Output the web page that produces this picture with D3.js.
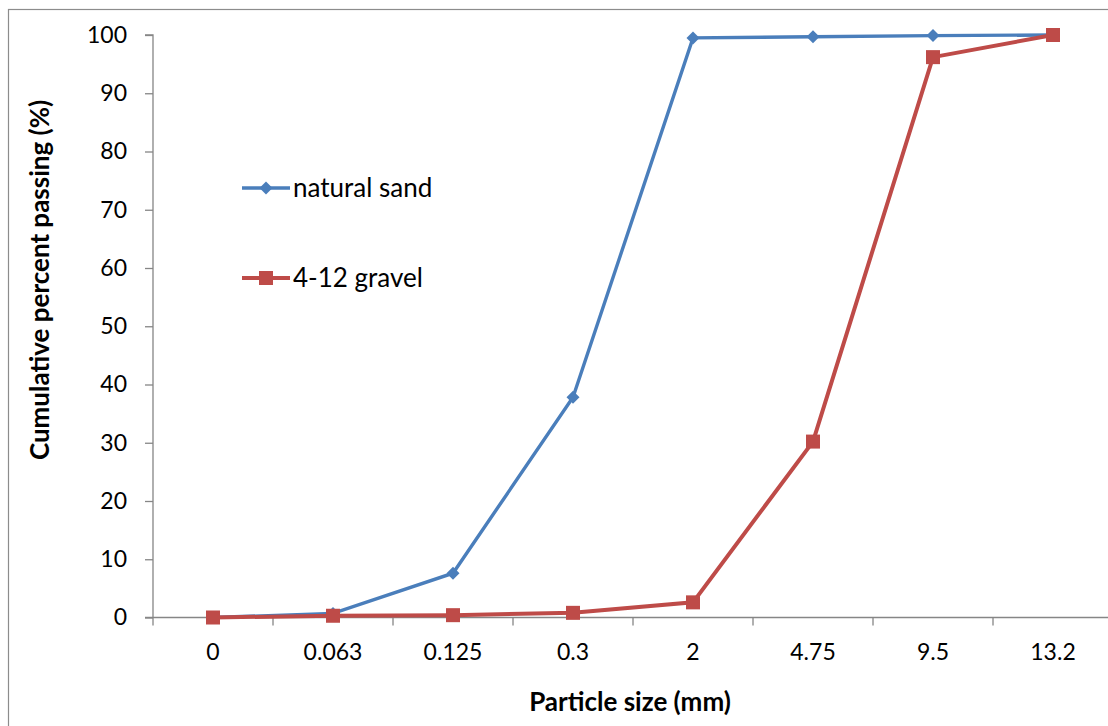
<!DOCTYPE html>
<html><head><meta charset="utf-8">
<script src="https://cdn.jsdelivr.net/npm/d3@7"></script>
<style>body{margin:0;background:#fff}svg{display:block}text{font-family:Lato,"Open Sans",sans-serif}</style>
</head><body>
<svg id="c" width="1108" height="726"></svg>
<script>
const categories = ["0","0.063","0.125","0.3","2","4.75","9.5","13.2"];
const naturalSand = [0, 0.7, 7.6, 37.8, 99.5, 99.7, 99.9, 100];
const gravel = [0, 0.3, 0.4, 0.8, 2.6, 30.2, 96.2, 100];
const yTicks = [0,10,20,30,40,50,60,70,80,90,100];
const seriesNames = ["natural sand","4-12 gravel"];

const svg = d3.select("#c");
const m = {left:153, top:35, right:1113, bottom:617.5};
svg.append("rect").attr("x",8.5).attr("y",9.5).attr("width",1130).attr("height",760)
  .attr("fill","none").attr("stroke","#8c8c8c").attr("stroke-width",1.2);

const x = d3.scaleBand().domain(categories).range([m.left,m.right]);
const y = d3.scaleLinear().domain([0,100]).range([m.bottom,m.top]);

const yAxis = svg.append("g").attr("transform",`translate(${m.left},0)`)
  .call(d3.axisLeft(y).tickValues(yTicks).tickSize(8).tickPadding(18));
const xAxis = svg.append("g").attr("transform",`translate(0,${m.bottom})`)
  .call(d3.axisBottom(x).tickSize(0).tickPadding(26));
const bounds = categories.map(c=>x(c)).concat([m.right]);
xAxis.selectAll(".bt").data(bounds).enter().append("line").attr("class","bt")
  .attr("x1",d=>d).attr("x2",d=>d).attr("y1",0).attr("y2",8);
[yAxis,xAxis].forEach(a=>{
  a.selectAll("path.domain").attr("stroke","#868686").attr("stroke-width",1.3);
  a.selectAll("line").attr("stroke","#868686").attr("stroke-width",1.3);
  a.selectAll("text").attr("font-size",23).attr("fill","#000");
});
yAxis.select("path.domain").attr("d",`M-8,${m.top}H0V${m.bottom}`);
xAxis.select("path.domain").attr("transform",`translate(${m.left},0)`).attr("d",`M-8,0H${m.right-m.left}`);

const cx = c => x(c)+x.bandwidth()/2;
const line = d3.line().x((d,i)=>cx(categories[i])).y(d=>y(d));
const blue = "#4A7EBB", red = "#BE4B48";

svg.append("path").datum(naturalSand).attr("d",line).attr("fill","none").attr("stroke",blue).attr("stroke-width",3.4);
svg.append("path").datum(gravel).attr("d",line).attr("fill","none").attr("stroke",red).attr("stroke-width",4);

const diamond = d3.symbol().type(d3.symbolSquare).size(85);
svg.selectAll(".sd").data(naturalSand).enter().append("path")
  .attr("d",diamond).attr("transform",(d,i)=>`translate(${cx(categories[i])},${y(d)}) rotate(45)`)
  .attr("fill",blue);
svg.selectAll(".gs").data(gravel).enter().append("rect")
  .attr("x",(d,i)=>cx(categories[i])-7).attr("y",d=>y(d)-7).attr("width",14).attr("height",14)
  .attr("fill",red);

const leg = [{name:seriesNames[0],color:blue,y:188,sq:false},{name:seriesNames[1],color:red,y:278,sq:true}];
leg.forEach(l=>{
  svg.append("line").attr("x1",242).attr("x2",290).attr("y1",l.y).attr("y2",l.y)
    .attr("stroke",l.color).attr("stroke-width",l.sq?4:3.4);
  if(l.sq) svg.append("rect").attr("x",259).attr("y",l.y-7).attr("width",14).attr("height",14).attr("fill",l.color);
  else svg.append("path").attr("d",diamond).attr("transform",`translate(266,${l.y}) rotate(45)`).attr("fill",l.color);
  svg.append("text").attr("x",293).attr("y",l.y).attr("dy","0.35em").attr("font-size",26).text(l.name);
});

svg.append("text").attr("x",630).attr("y",711).attr("text-anchor","middle").attr("font-size",26).attr("font-weight","bold").text("Particle size (mm)");
svg.append("text").attr("transform","translate(40,280) rotate(-90)").attr("text-anchor","middle").attr("dy","0.35em")
  .attr("font-size",26).attr("font-weight","bold").text("Cumulative percent passing (%)");
</script>
</body></html>
